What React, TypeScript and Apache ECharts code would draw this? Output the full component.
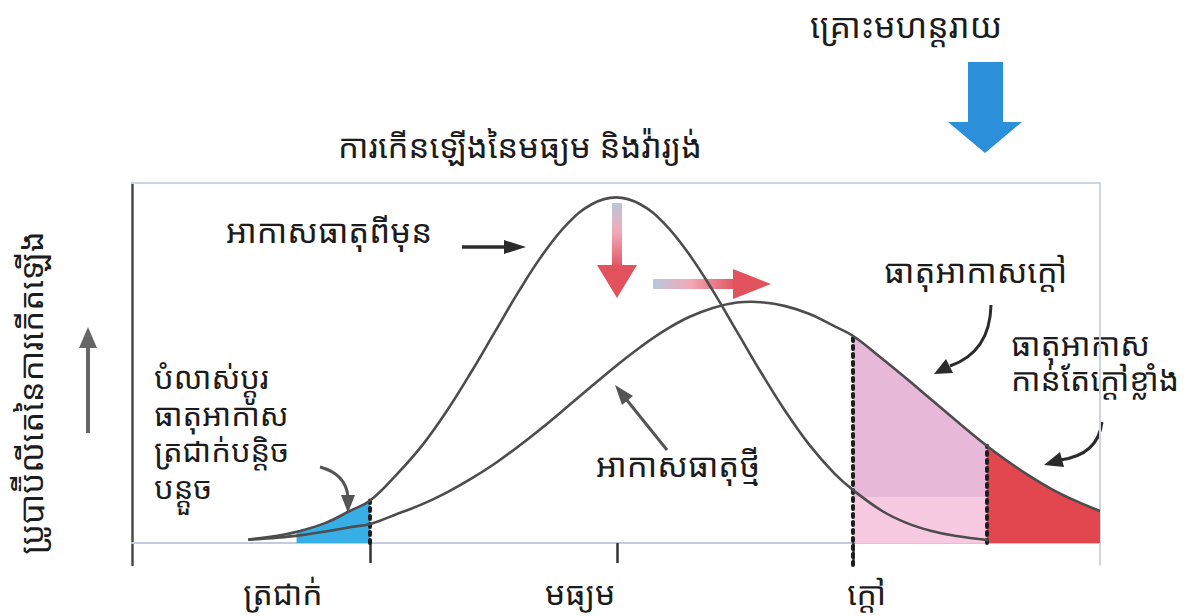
import React, { useEffect, useRef } from "react";
import * as echarts from "echarts";

const FONT =
  "'Khmer OS','Khmer OS System','Noto Sans Khmer','Noto Serif Khmer','Hanuman','Battambang','Noto Sans','DejaVu Sans',sans-serif";

// x: temperature scale (0..100), y: probability of occurrence (0..100)
const oldX = [12, 15, 17, 20, 22.5, 24.6, 27.5, 30, 32.5, 35, 37.5, 40, 42.5, 45, 47.5, 50, 52.5, 55, 57.5, 60, 62.5, 65, 67.5, 70, 72.5, 74.5, 77.5, 80, 82.5, 85, 88.5];
const oldY = [1.0, 2.0, 3.1, 5.6, 8.9, 11.8, 19.5, 27.2, 36.6, 47.3, 58.7, 70.1, 80.4, 88.7, 94.1, 96.0, 94.1, 88.7, 80.4, 70.1, 58.7, 47.3, 36.6, 27.2, 19.5, 14.7, 8.9, 5.6, 3.4, 2.0, 0.8];

const newX = [12, 15, 17.5, 20, 22.5, 24.6, 27.5, 30, 32.5, 35, 37.5, 40, 42.5, 45, 47.5, 50, 52.5, 55, 57.5, 60, 62.5, 64, 65, 67.5, 70, 72.5, 74.5, 77.5, 80, 82.5, 85, 88.3, 90, 92.5, 95, 97.5, 100];
const newY = [0.9, 1.5, 2.2, 3.2, 4.4, 5.3, 8.2, 10.8, 14.0, 17.8, 22.1, 27.0, 32.3, 37.9, 43.6, 49.2, 54.4, 59.0, 62.7, 65.3, 66.8, 67.0, 66.9, 65.8, 63.6, 60.3, 57.5, 51.2, 45.7, 40.0, 34.3, 27.0, 23.6, 19.0, 15.0, 11.7, 8.9];

const tickValues = [24.6, 50.1, 74.5];
const labelValues = [15.6, 46.3, 75.9];
const tickLabels = ["ត្រជាក់", "មធ្យម", "ក្តៅ"];

const coldLines = ["បំលាស់ប្តូរ", "ធាតុអាកាស", "ត្រជាក់បន្តិច", "បន្តួច"];

const coldStart = 16.6;
const coldEdge = 24.6;
const hotEdge = 74.5;
const extremeEdge = 88.3;
const lightPinkLevel = 12.8;

const pairs = (xs: number[], ys: number[], lo: number, hi: number) =>
  xs.map((x, i) => [x, ys[i]]).filter((p) => p[0] >= lo && p[0] <= hi);

const valueAt = (xs: number[], ys: number[], x: number) => ys[xs.indexOf(x)];

const ARROW = "#2b2b2b";
const TXT = "#1c1c1c";

export default function App() {
  const ref = useRef<HTMLDivElement>(null);
  useEffect(() => {
    if (!ref.current) return;
    const chart = echarts.init(ref.current, null, { renderer: "svg" });
    const curveLine = { color: "#4d4d4d", width: 2.6 };
    const dotted = { type: [3, 5] as any, width: 4, color: "#1e1e1e", cap: "round" as any };
    const option: any = {
      animation: false,
      backgroundColor: "#ffffff",
      title: {
        text: "គ្រោះមហន្តរាយ",
        left: 805,
        top: 3,
        textStyle: { fontFamily: FONT, fontSize: 34, fontWeight: "normal", color: TXT },
      },
      grid: { left: 132, right: 99, top: 183, bottom: 51 },
      xAxis: [
        {
          type: "value",
          min: 0,
          max: 100,
          axisLine: { onZero: true, lineStyle: { color: "#c3cbdf", width: 2 } },
          axisTick: { show: true, customValues: tickValues, length: 20, lineStyle: { color: "#333", width: 2.5 } },
          axisLabel: {
            customValues: labelValues,
            margin: 11,
            fontSize: 32,
            lineHeight: 32,
            fontFamily: FONT,
            color: TXT,
            formatter: (v: number) => {
              let best = 0;
              labelValues.forEach((lv, i) => {
                if (Math.abs(lv - v) < Math.abs(labelValues[best] - v)) best = i;
              });
              return tickLabels[best];
            },
          },
          splitLine: { show: false },
        },
        {
          type: "value",
          position: "top",
          min: 0,
          max: 100,
          axisLine: { onZero: false, lineStyle: { color: "#cdd4e4", width: 2 } },
          axisTick: { show: false },
          axisLabel: { show: false },
          splitLine: { show: false },
        },
      ],
      yAxis: [
        {
          type: "value",
          min: -6.1,
          max: 100,
          axisLine: { show: true, lineStyle: { color: "#4a4a4a", width: 2.5 } },
          axisTick: { show: false },
          axisLabel: { show: false },
          splitLine: { show: false },
        },
        {
          type: "value",
          position: "right",
          min: -6.1,
          max: 100,
          axisLine: { show: true, onZero: false, lineStyle: { color: "#cdd4e4", width: 2 } },
          axisTick: { show: false },
          axisLabel: { show: false },
          splitLine: { show: false },
        },
      ],
      series: [
        {
          name: "cold",
          type: "line",
          data: pairs(oldX, oldY, coldStart, coldEdge),
          smooth: 0.4,
          symbol: "none",
          lineStyle: { width: 0 },
          areaStyle: { color: "#37aee6", opacity: 1 },
          z: 1,
          silent: true,
        },
        {
          name: "hot",
          type: "line",
          data: pairs(newX, newY, hotEdge, extremeEdge),
          smooth: 0.4,
          symbol: "none",
          lineStyle: { width: 0 },
          areaStyle: { color: "#e8b8d9", opacity: 1 },
          z: 1,
          silent: true,
        },
        {
          name: "hotLower",
          type: "line",
          data: [
            [hotEdge, lightPinkLevel],
            [extremeEdge, lightPinkLevel],
          ],
          symbol: "none",
          lineStyle: { width: 0 },
          areaStyle: { color: "#f7cae2", opacity: 1 },
          z: 2,
          silent: true,
        },
        {
          name: "extreme",
          type: "line",
          data: pairs(newX, newY, extremeEdge, 100),
          smooth: 0.4,
          symbol: "none",
          lineStyle: { width: 0 },
          areaStyle: { color: "#e2474f", opacity: 1 },
          z: 2,
          silent: true,
        },
        {
          name: "old",
          type: "line",
          data: oldX.map((x, i) => [x, oldY[i]]),
          smooth: 0.4,
          symbol: "none",
          lineStyle: curveLine,
          z: 5,
          silent: true,
        },
        {
          name: "new",
          type: "line",
          data: newX.map((x, i) => [x, newY[i]]),
          smooth: 0.4,
          symbol: "none",
          lineStyle: curveLine,
          z: 5,
          silent: true,
          markLine: {
            silent: true,
            symbol: ["none", "none"],
            label: { show: false },
            lineStyle: dotted,
            data: [
              [{ coord: [coldEdge, 0] }, { coord: [coldEdge, valueAt(oldX, oldY, coldEdge)] }],
              [{ coord: [hotEdge, -6.1] }, { coord: [hotEdge, valueAt(newX, newY, hotEdge)] }],
              [{ coord: [extremeEdge, 0] }, { coord: [extremeEdge, valueAt(newX, newY, extremeEdge)] }],
            ],
          },
        },
      ],
      graphic: [
        // subtitle
        {
          type: "text",
          left: 338,
          top: 129,
          style: { text: "ការកើនឡើងនៃមធ្យម និងវ៉ារ្យង់", font: `33px ${FONT}`, fill: TXT },
        },
        // y label
        {
          type: "text",
          x: 30,
          y: 393,
          rotation: Math.PI / 2,
          style: {
            text: "ប្រូបាប៊ីលីតេនៃការកើតឡើង",
            font: `33px ${FONT}`,
            fill: TXT,
            align: "center",
            verticalAlign: "middle",
          },
        },
        // up arrow
        { type: "line", shape: { x1: 88, y1: 433, x2: 88, y2: 345 }, style: { stroke: "#666", lineWidth: 4 } },
        { type: "polygon", shape: { points: [[79, 348], [97, 348], [88, 327]] }, style: { fill: "#666" } },
        // disaster arrow
        {
          type: "polygon",
          shape: { points: [[968, 62], [1003, 62], [1003, 122], [1022, 122], [985, 153], [948, 122], [968, 122]] },
          style: { fill: "#2b8fd9" },
        },
        // old climate label
        { type: "text", left: 226, top: 214, style: { text: "អាកាសធាតុពីមុន", font: `33px ${FONT}`, fill: TXT } },
        { type: "line", shape: { x1: 462, y1: 247, x2: 510, y2: 247 }, style: { stroke: ARROW, lineWidth: 3.5 } },
        { type: "polygon", shape: { points: [[504, 240], [526, 247], [504, 254]] }, style: { fill: ARROW } },
        // mean shift / variance arrows
        {
          type: "rect",
          shape: { x: 612, y: 203, width: 10, height: 64 },
          style: {
            fill: new echarts.graphic.LinearGradient(0, 0, 0, 1, [
              { offset: 0, color: "#b8c8dc" },
              { offset: 0.45, color: "#f2a9b8" },
              { offset: 1, color: "#e25560" },
            ]),
          },
        },
        { type: "polygon", shape: { points: [[597, 265], [637, 265], [617, 298]] }, style: { fill: "#e1525c" } },
        {
          type: "rect",
          shape: { x: 653, y: 279, width: 82, height: 10 },
          style: {
            fill: new echarts.graphic.LinearGradient(0, 0, 1, 0, [
              { offset: 0, color: "#b8c8dc" },
              { offset: 0.45, color: "#f2a9b8" },
              { offset: 1, color: "#e25560" },
            ]),
          },
        },
        { type: "polygon", shape: { points: [[733, 269], [733, 299], [771, 284]] }, style: { fill: "#e1525c" } },
        // hot label
        { type: "text", left: 884, top: 254, style: { text: "ធាតុអាកាសក្តៅ", font: `33px ${FONT}`, fill: TXT } },
        {
          type: "bezierCurve",
          shape: { x1: 991, y1: 305, cpx1: 990, cpy1: 352, x2: 950, y2: 366 },
          style: { stroke: ARROW, lineWidth: 3, fill: null },
        },
        { type: "polygon", shape: { points: [[934, 374], [953, 373], [946, 359]] }, style: { fill: ARROW } },
        // extreme label
        {
          type: "text",
          left: 1011,
          top: 326,
          style: { text: "ធាតុអាកាស\nកាន់តែក្តៅខ្លាំង", font: `32px ${FONT}`, fill: TXT, lineHeight: 35 },
        },
        {
          type: "bezierCurve",
          shape: { x1: 1102, y1: 422, cpx1: 1098, cpy1: 455, x2: 1060, y2: 460 },
          style: { stroke: ARROW, lineWidth: 3, fill: null },
        },
        { type: "polygon", shape: { points: [[1044, 465], [1064, 467], [1060, 452]] }, style: { fill: ARROW } },
        // cold label (one block, four lines)
        {
          type: "text",
          left: 154,
          top: 359,
          style: {
            text: coldLines.join("\n"),
            font: `31px ${FONT}`,
            fill: TXT,
            lineHeight: 36.5,
          },
        },
        {
          type: "bezierCurve",
          shape: { x1: 320, y1: 467, cpx1: 346, cpy1: 474, x2: 348, y2: 497 },
          style: { stroke: "#555", lineWidth: 3, fill: null },
        },
        { type: "polygon", shape: { points: [[348, 513], [341, 495], [355, 495]] }, style: { fill: "#555" } },
        // new climate label
        { type: "text", left: 596, top: 448, style: { text: "អាកាសធាតុថ្មី", font: `33px ${FONT}`, fill: TXT } },
        { type: "line", shape: { x1: 667, y1: 450, x2: 626, y2: 399 }, style: { stroke: "#555", lineWidth: 3 } },
        { type: "polygon", shape: { points: [[615, 385], [633, 396], [622, 405]] }, style: { fill: "#555" } },
      ],
    };
    chart.setOption(option);
    return () => chart.dispose();
  }, []);
  return (
    <div
      ref={ref}
      style={{ position: "fixed", left: 0, top: 0, width: 1199, height: 616, background: "#fff" }}
    />
  );
}
